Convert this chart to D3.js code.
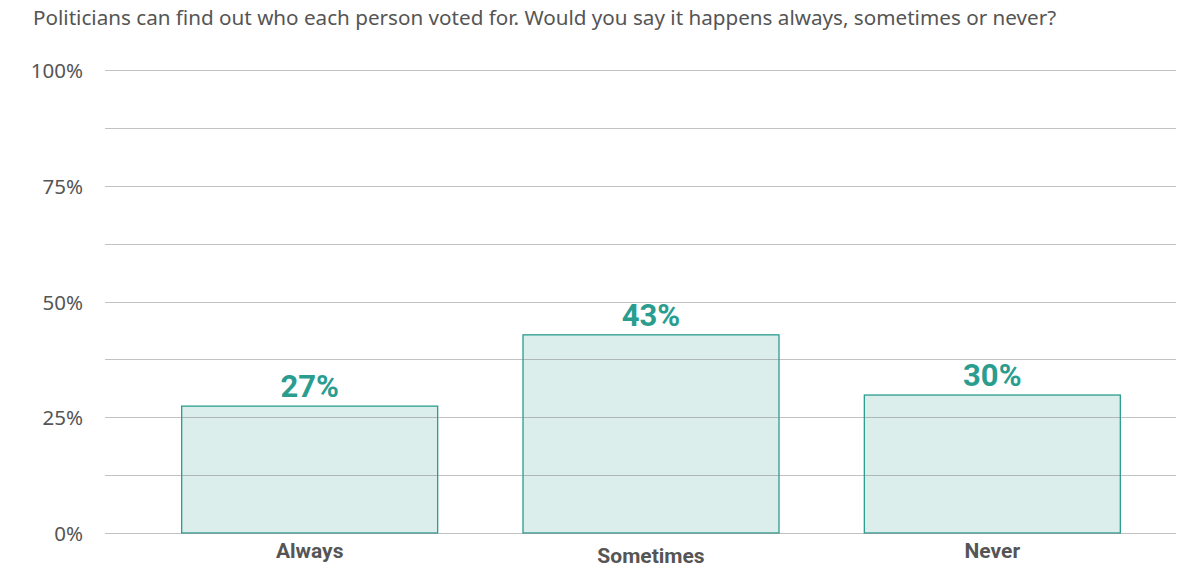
<!DOCTYPE html>
<html><head><meta charset="utf-8">
<script src="https://cdn.jsdelivr.net/npm/d3@7"></script>
<style>body{margin:0;background:#fff}svg{display:block}</style>
</head><body>
<script>
const title = "Politicians can find out who each person voted for. Would you say it happens always, sometimes or never?";
const categories = ["Always", "Sometimes", "Never"];
const values = [27.4, 42.8, 29.8];
const labels = ["27%", "43%", "30%"];
const tickValues = [0, 12.5, 25, 37.5, 50, 62.5, 75, 87.5, 100];
const tickLabels = {0: "0%", 25: "25%", 50: "50%", 75: "75%", 100: "100%"};

const W = 1189, H = 567;
const svg = d3.select("body").append("svg").attr("width", W).attr("height", H);
const y = d3.scaleLinear().domain([0, 100]).range([533, 70]);
const x = d3.scaleBand().domain(categories).range([139, 1163]).paddingInner(0.25).paddingOuter(0.125);

const t = svg.append("text").attr("x", 33).attr("y", 25).attr("font-family", "'Noto Sans',sans-serif")
  .attr("font-size", 17).attr("fill", "#555").text(title);
const tw = t.node().getComputedTextLength();
t.attr("font-size", 17 * 1024 / tw);

const bars = svg.append("g");
bars.selectAll("rect").data(values).join("rect")
  .attr("x", (d, i) => x(categories[i])).attr("width", x.bandwidth())
  .attr("y", d => y(d)).attr("height", d => y(0) - y(d))
  .attr("fill", "rgba(42,157,143,0.17)").attr("stroke", "#2a9d8f").attr("stroke-width", 1.3);

const grid = svg.append("g");
grid.selectAll("line").data(tickValues).join("line")
  .attr("x1", 105).attr("x2", 1176).attr("y1", d => Math.round(y(d)) + 0.5).attr("y2", d => Math.round(y(d)) + 0.5)
  .attr("stroke", "rgba(120,120,120,0.45)").attr("stroke-width", 1);

svg.append("g").selectAll("text").data(tickValues.filter(v => tickLabels[v] !== undefined)).join("text")
  .attr("x", 83).attr("y", d => y(d) + 8).attr("text-anchor", "end")
  .attr("font-family", "'Noto Sans',sans-serif").attr("font-size", 20.5).attr("fill", "#555")
  .text(d => tickLabels[d]);

svg.append("g").selectAll("text").data(values).join("text")
  .attr("x", (d, i) => x(categories[i]) + x.bandwidth() / 2).attr("y", d => y(d) - 9)
  .attr("text-anchor", "middle").attr("font-family", "Roboto,sans-serif").attr("font-weight", "bold")
  .attr("font-size", 31).attr("fill", "#2a9d8f").text((d, i) => labels[i]);

svg.append("g").selectAll("text").data(categories).join("text")
  .attr("x", d => x(d) + x.bandwidth() / 2).attr("y", d => d === "Sometimes" ? 563 : 558)
  .attr("text-anchor", "middle").attr("font-family", "Roboto,sans-serif").attr("font-weight", "bold")
  .attr("font-size", 21).attr("fill", "#555").text(d => d);
</script>
</body></html>
